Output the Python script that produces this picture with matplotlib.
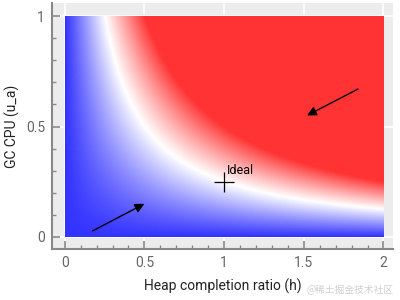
import numpy as np
import matplotlib
matplotlib.use("Agg")
import matplotlib.pyplot as plt
from matplotlib.colors import LinearSegmentedColormap, TwoSlopeNorm

plt.rcParams['font.family'] = ['Roboto', 'DejaVu Sans']

# Data
h_vals = np.linspace(0, 2, 400)       # heap completion ratio
u_vals = np.linspace(0, 1, 300)       # GC CPU utilisation
ideal_h, ideal_u = 1.0, 0.25
arrow1 = dict(tail=(0.175, 0.027), head=(0.50, 0.15))
arrow2 = dict(tail=(1.84, 0.67), head=(1.52, 0.55))
x_ticks = [0, 0.5, 1, 1.5, 2]
x_ticklabels = ['0', '0.5', '1', '1.5', '2']
y_ticks = [0, 0.5, 1]
y_ticklabels = ['0', '0.5', '1']

H, U = np.meshgrid(h_vals, u_vals)
Z = H * U

cmap = LinearSegmentedColormap.from_list(
    'bwr2', [(0.2, 0.2, 1.0), (1, 1, 1), (1.0, 0.2, 0.2)])
norm = TwoSlopeNorm(vmin=0.0, vcenter=ideal_h * ideal_u, vmax=0.5)

fig = plt.figure(figsize=(4, 3), dpi=100)
ax = fig.add_axes([0.13, 0.17, 0.8525, 0.82])
ax.set_facecolor('#ececec')
ax.set_axisbelow(True)
ax.grid(True, color='white', lw=1.2)

ax.imshow(Z, origin='lower', extent=(0, 2, 0, 1), cmap=cmap, norm=norm,
          aspect='auto', interpolation='bilinear', zorder=1)

ax.set_xlim(-0.08, 2.06)
ax.set_ylim(-0.055, 1.06)

ax.plot([ideal_h], [ideal_u], marker='+', color='black', ms=14, mew=0.9, zorder=3)
ax.text(ideal_h + 0.02, ideal_u + 0.02, 'Ideal', fontsize=9, color='black',
        ha='left', va='bottom', zorder=3)

for a in (arrow1, arrow2):
    ax.annotate('', xy=a['head'], xytext=a['tail'],
                arrowprops=dict(arrowstyle='-|>', color='black', lw=1.0,
                                mutation_scale=14, shrinkA=0, shrinkB=0),
                zorder=4)

for s in ('top', 'right'):
    ax.spines[s].set_visible(False)
for s in ('left', 'bottom'):
    ax.spines[s].set_color('#888888')
    ax.spines[s].set_linewidth(1.5)

ax.set_xticks(x_ticks)
ax.set_xticklabels(x_ticklabels)
ax.set_yticks(y_ticks)
ax.set_yticklabels(y_ticklabels)
ax.set_xticks(np.arange(0, 2.01, 0.1), minor=True)
ax.set_yticks(np.arange(0, 1.01, 0.1), minor=True)
ax.tick_params(which='major', direction='in', length=6, width=1.2,
               color='#888888', labelcolor='#666666', labelsize=10, pad=5)
ax.tick_params(which='minor', direction='in', length=3, width=1.0,
               color='#888888')
ax.grid(False, which='minor')

ax.set_xlabel('Heap completion ratio (h)', fontsize=10, color='#222222', labelpad=6)
ax.set_ylabel('GC CPU (u_a)', fontsize=10, color='#222222', labelpad=4)

fig.text(0.985, 0.015, '@稀土掘金技术社区', fontsize=7, color='#d0d0d0',
         ha='right', va='bottom', family=['Noto Sans CJK SC', 'DejaVu Sans'])

fig.savefig('out.png', dpi=100)
